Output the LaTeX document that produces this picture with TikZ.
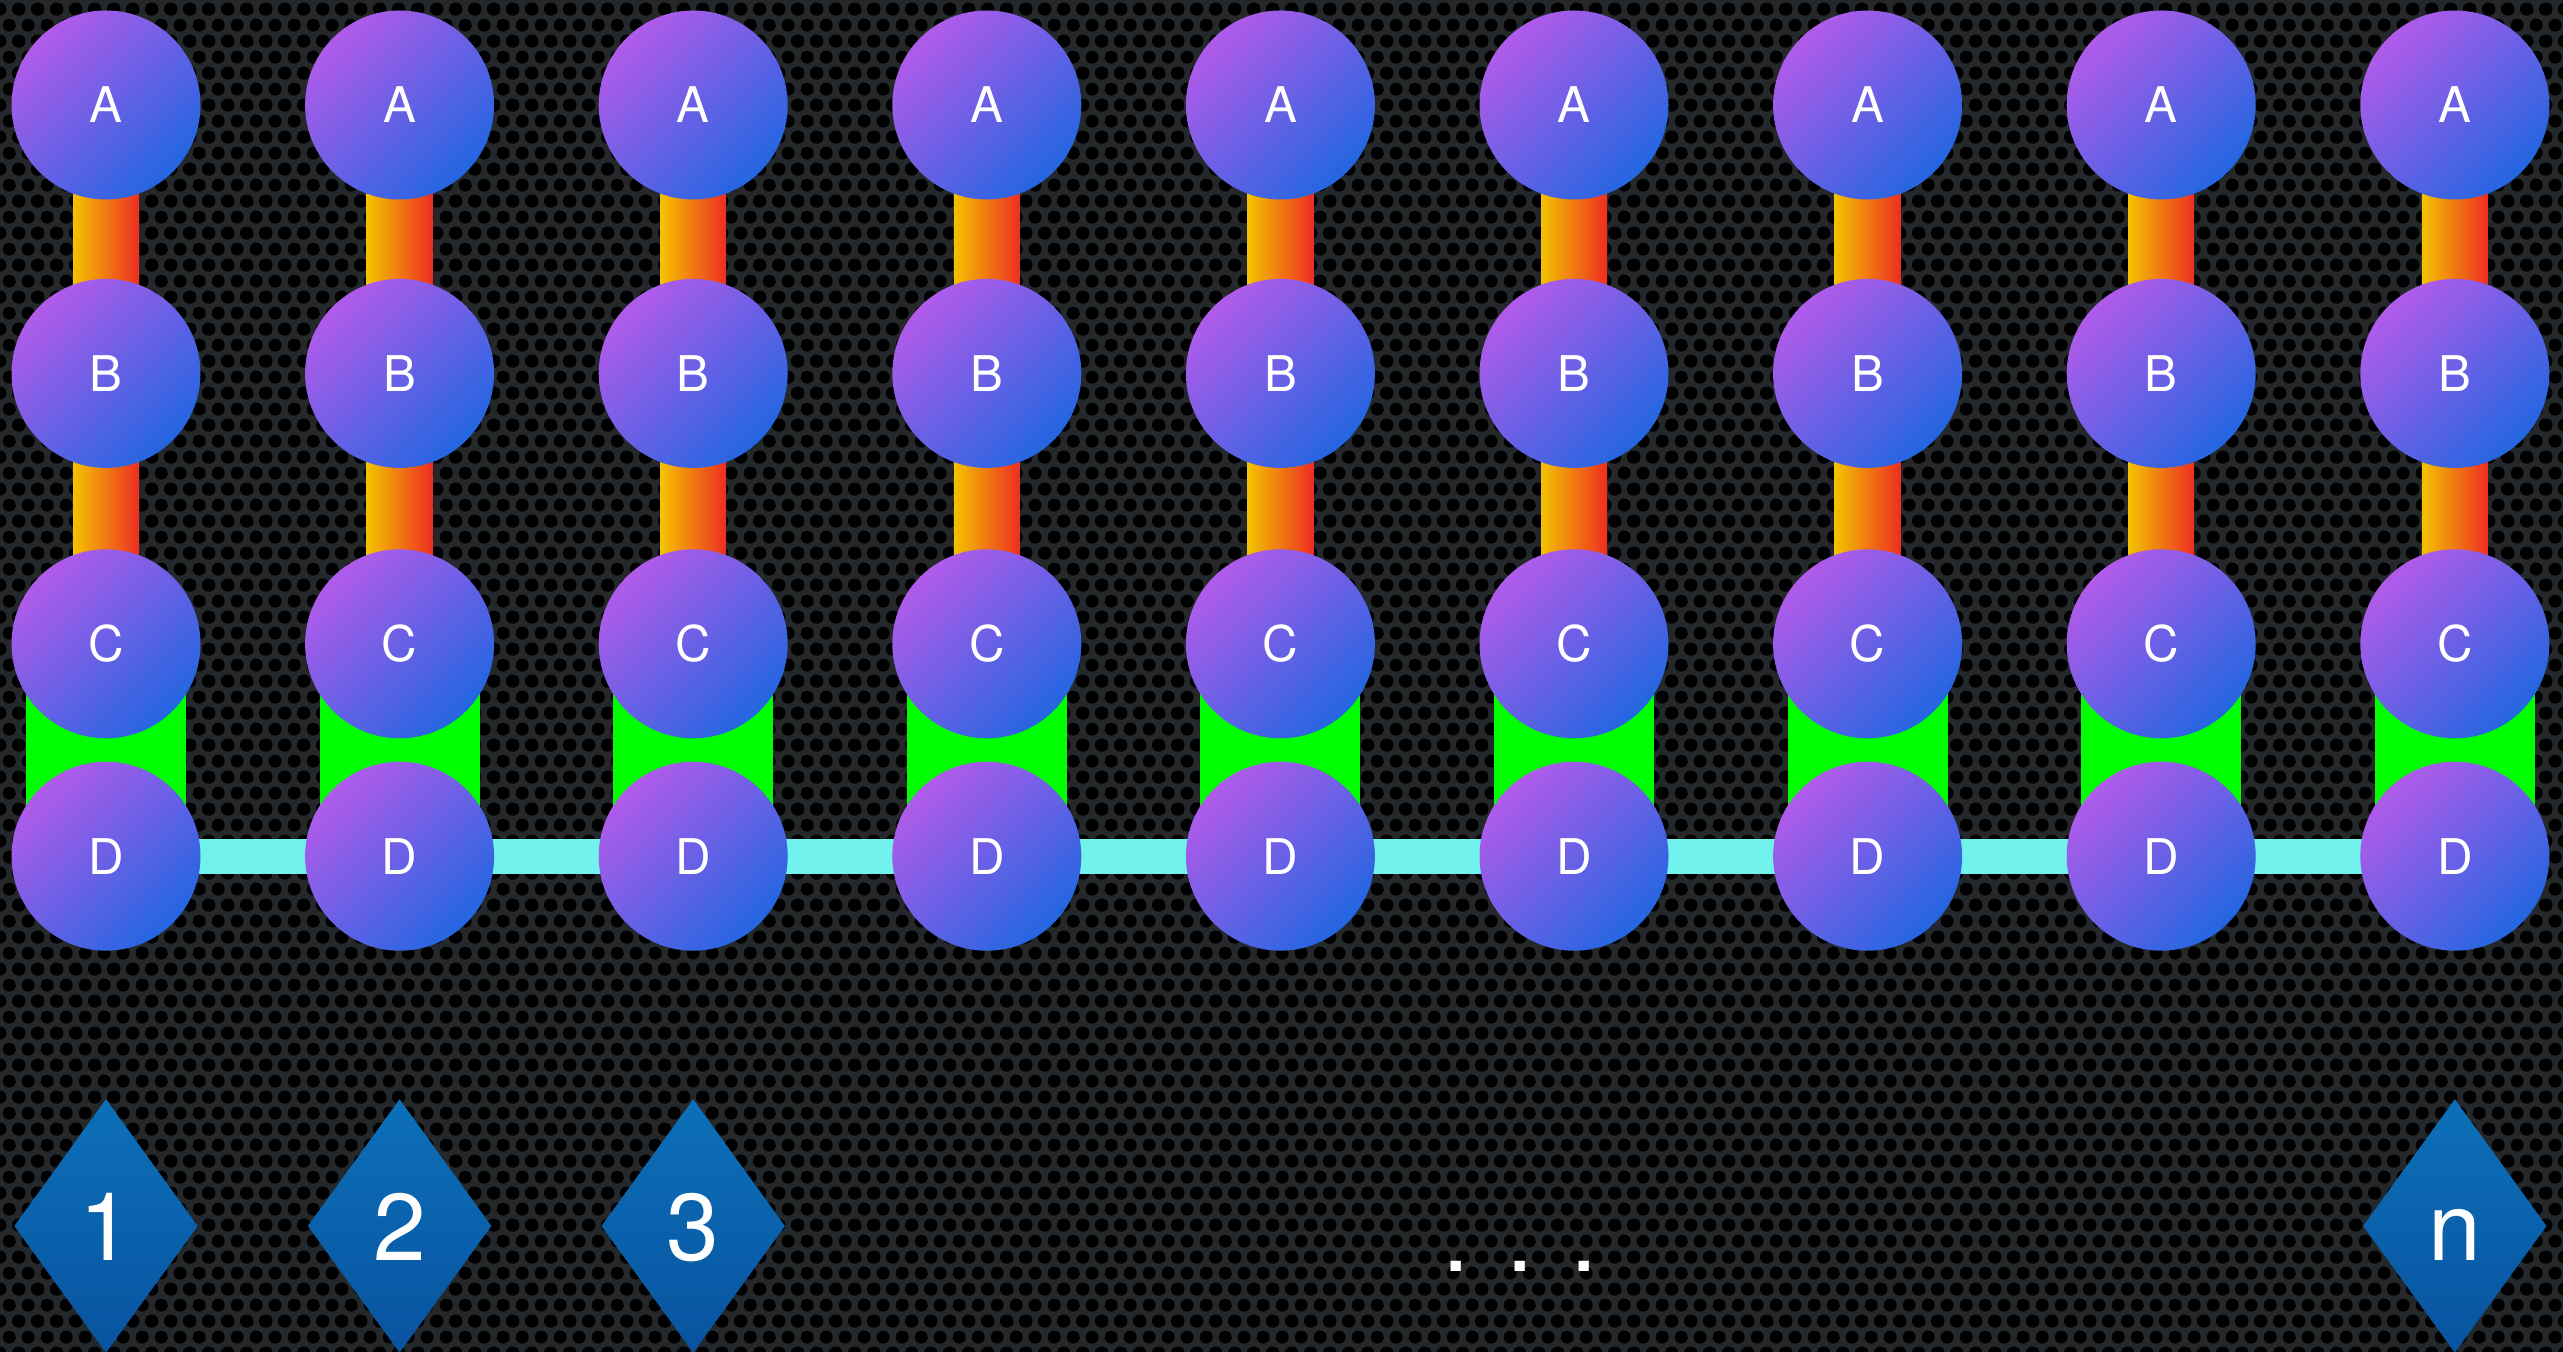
\documentclass[tikz,border=0pt]{standalone}
\usepackage{fontspec}
\setmainfont{TeX Gyre Heros}
\usepackage{xcolor}
\usetikzlibrary{shapes.geometric,patterns,positioning}

\definecolor{ballpurple}{HTML}{B15BEA}
\definecolor{ballblue}{HTML}{2366E1}
\definecolor{linkyellow}{HTML}{F3C300}
\definecolor{linkorange}{HTML}{F08A10}
\definecolor{linkred}{HTML}{EE2D22}
\definecolor{linkgreen}{HTML}{00FF00}
\definecolor{linkcyan}{HTML}{72F2EC}
\definecolor{tagtop}{HTML}{0C70B8}
\definecolor{tagbottom}{HTML}{0953A0}
\definecolor{platebg}{HTML}{24282B}

\pgfdeclarelayer{plate}
\pgfdeclarelayer{links}
\pgfsetlayers{plate,links,main}

\pgfdeclarepatternformonly{perforated}{\pgfpointorigin}{\pgfpoint{0.187cm}{0.324cm}}{\pgfpoint{0.187cm}{0.324cm}}{%
  \pgfpathcircle{\pgfpointorigin}{0.066cm}
  \pgfpathcircle{\pgfpoint{0.187cm}{0cm}}{0.066cm}
  \pgfpathcircle{\pgfpoint{0cm}{0.324cm}}{0.066cm}
  \pgfpathcircle{\pgfpoint{0.187cm}{0.324cm}}{0.066cm}
  \pgfpathcircle{\pgfpoint{0.0935cm}{0.162cm}}{0.066cm}
  \pgfusepath{fill}}

\tikzset{
  ball/.style={circle, minimum size=1.89cm, inner sep=0pt, top color=ballpurple, bottom color=ballblue, shading angle=45, text=white, font=\fontsize{14}{16}\selectfont},
  tag/.style={diamond, minimum width=1.84cm, minimum height=2.54cm, inner sep=0pt, top color=tagtop, bottom color=tagbottom, text=white, font=\fontsize{27}{30}\selectfont, text height=0.68cm, text depth=0pt},
}

\begin{document}
\begin{tikzpicture}
		\useasboundingbox (0,0) rectangle (25.63,-13.52);
		\begin{pgfonlayer}{plate}
			\fill[platebg] (0,0) rectangle (25.63,-13.52);
			\fill[pattern=perforated, pattern color=black] (0,0) rectangle (25.63,-13.52);
		\end{pgfonlayer}

		% nine columns A-B-C-D
		\foreach \i in {1,...,9} {
			\pgfmathsetmacro{\x}{1.06+2.936*(\i-1)}
			\node[ball] (a\i) at (\x,-1.05) {A};
			\node[ball, below=0.78cm of a\i] (b\i) {B};
			\node[ball, below=0.80cm of b\i] (c\i) {C};
			\node[ball, below=0.22cm of c\i] (d\i) {D};
			\begin{pgfonlayer}{links}
				\shade[left color=linkyellow, middle color=linkorange, right color=linkred] ([xshift=-0.33cm]a\i.center) rectangle ([xshift=0.33cm]c\i.center);
				\fill[linkgreen] ([xshift=-0.8cm]c\i.center) rectangle ([xshift=0.8cm]d\i.center);
			\end{pgfonlayer}
		}
		\begin{pgfonlayer}{links}
			\fill[linkcyan] ([yshift=0.175cm]d1.center) rectangle ([yshift=-0.175cm]d9.center);
		\end{pgfonlayer}

		\coordinate (tagrow) at (0,-12.26);
		\node[tag] (t1) at (a1 |- tagrow) {1};
		\node[tag] (t2) at (a2 |- tagrow) {2};
		\node[tag] (t3) at (a3 |- tagrow) {3};
		\node[tag] (tn) at (a9 |- tagrow) {n};

		\node[font=\fontsize{28}{32}\selectfont, text=white, anchor=base, inner sep=0pt] (dots) at (15.20,-12.71) {. . .};
	\end{tikzpicture}
\end{document}
